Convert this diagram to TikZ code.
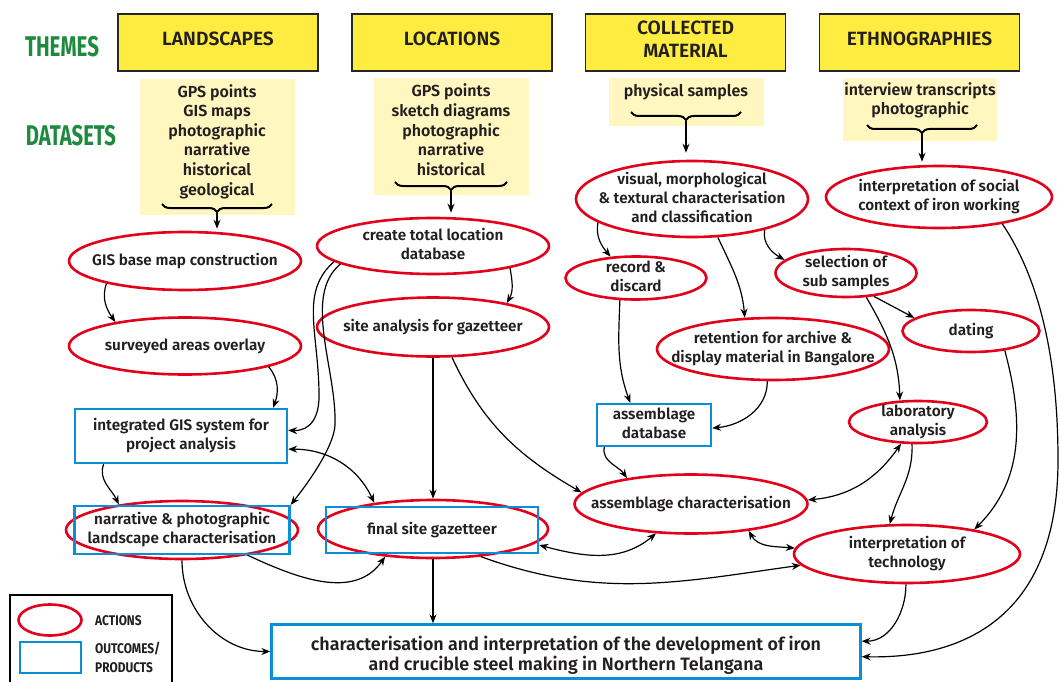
\documentclass[tikz,border=0pt]{standalone}
\usepackage{fontspec}
\setmainfont{Fira Sans}[BoldFont={Fira Sans SemiBold}]
\newfontfamily\heavyfont{Fira Sans}
\usetikzlibrary{shapes.geometric,arrows.meta,decorations.pathreplacing}
\definecolor{actred}{HTML}{E2001A}
\definecolor{outblue}{HTML}{0A8FD6}
\definecolor{themeyellow}{HTML}{FFEC40}
\definecolor{datayellow}{HTML}{FFF7BF}
\definecolor{themegreen}{HTML}{1E8A3E}
\definecolor{textdark}{HTML}{231F20}
\newcommand{\ct}[2][4pt]{\smash{\raisebox{-#1}{\makebox[0pt]{\begin{tabular}{@{}c@{}}#2\end{tabular}}}}}
\begin{document}
\begin{tikzpicture}[x=1pt,y=-1pt,
  every node/.style={text=textdark},
  nf/.style={font=\fontsize{15.3}{19}\selectfont\bfseries},
  sz/.style 2 args={minimum width=#1pt, minimum height=#2pt},
  act/.style={ellipse, draw=actred, line width=2.6pt, inner sep=0pt, nf},
  outc/.style={rectangle, draw=outblue, line width=2.3pt, inner sep=0pt, nf},
  theme/.style={rectangle, draw=black!85, fill=themeyellow, line width=1.8pt, minimum width=200pt, minimum height=57pt, inner sep=0pt, font=\fontsize{19.2}{22.5}\selectfont\bfseries},
  ds/.style={rectangle, fill=datayellow, inner sep=0pt},
  dstext/.style={inner sep=0pt, font=\fontsize{16}{19.6}\selectfont\bfseries},
  head/.style={inner sep=0pt, text=themegreen, font=\fontsize{28.5}{30}\heavyfont\bfseries},
  legt/.style={inner sep=0pt, anchor=west, font=\fontsize{14}{19}\heavyfont\bfseries},
  conn/.style={-{Stealth[length=9pt,width=7pt]}, line width=1.2pt},
  dconn/.style={{Stealth[length=9pt,width=7pt]}-{Stealth[length=9pt,width=7pt]}, line width=1.2pt},
  br/.style={decorate, decoration={brace, amplitude=8pt}, line width=2pt}
]
\useasboundingbox (0,0) rectangle (1060,682);

% headings
\node[head] (hthemes) at (62,47) {\scalebox{0.72}[1]{THEMES}};
\node[head] (hdata) at (71,136) {\scalebox{0.71}[1]{DATASETS}};

% themes
\node[theme] (tL) at (218,42.5) {\ct{LANDSCAPES}};
\node[theme] (tLo) at (452,42.5) {\ct{LOCATIONS}};
\node[theme] (tC) at (685.5,42.5) {\ct{COLLECTED\\MATERIAL}};
\node[theme] (tE) at (919.5,42.5) {\ct{ETHNOGRAPHIES}};

% datasets
\node[ds, sz={155}{136}] (dsL) at (217.5,147) {};
\node[ds, sz={155}{117}] (dsLo) at (451.5,136.5) {};
\node[ds, sz={155}{48}] (dsC) at (686.5,102) {};
\node[ds, sz={154}{63}] (dsE) at (920,109.5) {};
\node[dstext] (dsLt) at (217,142.5) {\ct{GPS points\\GIS maps\\photographic\\narrative\\historical\\geological}};
\node[dstext] (dsLot) at (451,132.5) {\ct{GPS points\\sketch diagrams\\photographic\\narrative\\historical}};
\node[dstext] (dsCt) at (686,92.5) {\ct{physical samples}};
\node[dstext] (dsEt) at (920,101.5) {\ct{interview transcripts\\photographic}};

\draw[br] (272,204) -- (162,204);
\draw[br] (507,182) -- (395,182);
\draw[br] (741,112) -- (631,112);
\draw[br] (977,125) -- (867,125);
\coordinate (bL) at (217,213);
\coordinate (bLo) at (451,191);
\coordinate (bC) at (686,121);
\coordinate (bE) at (922,134);

% actions
\node[act, sz={232}{58}] (gisb) at (185,261) {\ct{GIS base map construction}};
\node[act, sz={232}{57}] (surv) at (185,346) {\ct{surveyed areas overlay}};
\node[act, sz={232}{56}] (ctl) at (433,246) {\ct{create total location\\database}};
\node[act, sz={232}{59}] (site) at (433,327) {\ct{site analysis for gazetteer}};
\node[act, sz={232}{76}] (vis) at (692,199) {\ct{visual, morphological\\\& textural characterisation\\and classification}};
\node[act, sz={141}{43}] (rec) at (636,278) {\ct{record \&\\discard}};
\node[act, sz={141}{48}] (sel) at (846,273) {\ct{selection of\\sub samples}};
\node[act, sz={137}{42}] (dat) at (971,331) {\ct{dating}};
\node[act, sz={232}{62}] (ret) at (773,349) {\ct{retention for archive \&\\display material in Bangalore}};
\node[act, sz={138}{42}] (lab) at (918,422) {\ct{laboratory\\analysis}};
\node[act, sz={226}{62}] (soc) at (939,197) {\ct{interpretation of social\\context of iron working}};
\node[act, sz={233}{59}] (asc) at (691,504) {\ct{assemblage characterisation}};
\node[act, sz={226}{58}] (tech) at (907,554) {\ct{interpretation of\\technology}};
\node[act, sz={232}{58}] (narr) at (182,530) {};
\node[act, sz={230}{58}] (fsg) at (433,529) {};

% outcomes
\node[outc, sz={212}{54}] (igis) at (181,436) {\ct{integrated GIS system for\\project analysis}};
\node[outc, sz={114}{42}] (adb) at (654,425) {\ct{assemblage\\database}};
\node[outc, sz={215}{48}] (narrR) at (182,530) {\ct{narrative \& photographic\\landscape characterisation}};
\node[outc, sz={212}{46}] (fsgR) at (432,530) {\ct{final site gazetteer}};
\node[outc, sz={589}{54}, font=\fontsize{17.9}{20}\selectfont\bfseries] (final) at (566,651.5) {\ct[9pt]{characterisation and interpretation of the development of iron\\and crucible steel making in Northern Telangana}};

% legend
\draw[line width=1.2pt] (10,690) -- (10,595) -- (172,595) -- (172,690);
\node[act, sz={63}{31}] (legA) at (50,620) {};
\node[outc, sz={61}{31}] (legO) at (50.5,657.5) {};
\node[legt] (legAt) at (95,621) {\scalebox{0.85}[1]{ACTIONS}};
\node[legt] (legOt) at (95,659) {\scalebox{0.85}[1]{\begin{tabular}{@{}l@{}}OUTCOMES/\\PRODUCTS\end{tabular}}};

% connectors from datasets
\draw[conn, shorten >=2pt] (bL) -- (bL |- gisb.north);
\draw[conn, shorten >=4pt] (bLo) -- (bLo |- ctl.north);
\draw[conn, shorten >=7pt] (bC) -- (bC |- vis.north);
\draw[conn, shorten >=3pt] (bE) -- (bE |- soc.north);

% landscapes column
\draw[conn] (gisb.-164) to[out=250,in=125] (surv.161);
\draw[conn] (surv.-14) to[out=-50,in=70] (igis.17.6);
\draw[conn] (igis.-160.4) to[out=250,in=115] (narr.158);
\draw[conn] (ctl.-171) .. controls (300,292) and (318,330) .. (319,392) .. controls (320,418) and (310,431) .. (igis.3);
\draw[conn] (ctl.-169) .. controls (302,296) and (337,370) .. (335,425) .. controls (334,445) and (312,478) .. (narrR.north east);
\draw[dconn] (igis.-7) to[out=0,in=115] (fsg.156);

% locations column
\draw[conn] (ctl.-16) to[out=-80,in=60] (site.18);
\draw[conn] (site.south) -- (fsg.north);
\draw[conn] (site.-58) to[out=-65,in=150] (asc.174);
\draw[conn] (narr.-21.6) to[out=-25,in=235] (fsg.-150);
\draw[conn] (narr.south) to[out=-90,in=180] (final.west);
\draw[conn] (fsg.south) -- (fsg.south |- final.north);
\draw[conn] (fsg.-30) to[out=-20,in=188] (tech.-174);
\draw[dconn] (fsgR.-8) to[out=-15,in=220] (asc.-140);

% collected material column
\draw[conn] (vis.-166) to[out=-100,in=130] (rec.140);
\draw[conn] (vis.-56) to[out=-65,in=95] (ret.132);
\draw[conn] (vis.-23) to[out=-100,in=150] (sel.168);
\draw[conn] (rec.-126) to[out=-92,in=110] (adb.137);
\draw[conn] (ret.-100) to[out=-90,in=5] (adb.-3);
\draw[conn] (adb.-156) to[out=-100,in=125] (asc.158);
\draw[conn] (sel.-40) -- (dat.167);
\draw[conn] (sel.-50) to[out=-60,in=92] (lab.130);
\draw[dconn] (asc.2) to[out=5,in=235] (lab.-128);
\draw[conn] (lab.-105) to[out=-88,in=75] (tech.120);
\draw[conn] (dat.-30) to[out=-75,in=45] (tech.20);
\draw[dconn] (asc.-25) to[out=-60,in=175] (tech.177);
\draw[conn] (tech.-92) to[out=-90,in=0] (final.2.1);

% ethnographies
\draw[conn] (soc.-23) .. controls (1040,280) and (1058,360) .. (1058,460) .. controls (1058,620) and (960,659) .. (final.-1.6);
\end{tikzpicture}
\end{document}
